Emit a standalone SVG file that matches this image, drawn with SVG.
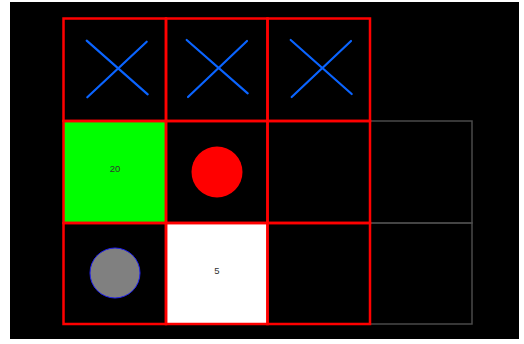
<svg xmlns="http://www.w3.org/2000/svg" width="524" height="344" viewBox="0 0 524 344">
<style>
.cell{fill:none;stroke:#ff0000;stroke-width:2.5}
.ghost{fill:none;stroke:#4a4a4a;stroke-width:1.5}
.x{stroke:#0a64ff;stroke-width:2.2;stroke-linecap:round}
.lbl{font-family:"Liberation Sans",Arial,sans-serif;font-size:9.5px;fill:#333;text-anchor:middle}
</style>
<rect x="0" y="0" width="524" height="344" fill="#ffffff"/>
<rect x="10" y="2" width="509" height="337" fill="#000000"/>
<g id="ghost-cells">
<rect class="ghost" x="370" y="121" width="102" height="102"/>
<rect class="ghost" x="370" y="223" width="102" height="101"/>
</g>
<g id="cell-green">
<rect x="64" y="122" width="102" height="101" fill="#00ff00"/>
<text class="lbl" x="115" y="172">20</text>
</g>
<g id="cell-white">
<rect x="167" y="224" width="100" height="100" fill="#ffffff"/>
<text class="lbl" x="217" y="274">5</text>
</g>
<g id="red-circle">
<circle cx="217" cy="172" r="25.5" fill="#ff0000"/>
</g>
<g id="grey-circle">
<circle cx="115" cy="273" r="25" fill="#808080" stroke="#2222ee" stroke-width="1"/>
</g>
<g id="cross-1">
<line class="x" x1="86.7" y1="40.7" x2="147.7" y2="94.3"/>
<line class="x" x1="146.7" y1="41.7" x2="87.3" y2="97.3"/>
</g>
<g id="cross-2">
<line class="x" x1="186.7" y1="40" x2="247.7" y2="93.3"/>
<line class="x" x1="247" y1="41" x2="188" y2="97"/>
</g>
<g id="cross-3">
<line class="x" x1="290.7" y1="40" x2="351.7" y2="94"/>
<line class="x" x1="351" y1="41" x2="291.7" y2="97"/>
</g>
<g id="grid">
<rect class="cell" x="63.5" y="18.5" width="102.5" height="102.5"/>
<rect class="cell" x="166" y="18.5" width="101.5" height="102.5"/>
<rect class="cell" x="267.5" y="18.5" width="102.5" height="102.5"/>
<rect class="cell" x="63.5" y="121" width="102.5" height="102"/>
<rect class="cell" x="166" y="121" width="101.5" height="102"/>
<rect class="cell" x="267.5" y="121" width="102.5" height="102"/>
<rect class="cell" x="63.5" y="223" width="102.5" height="101"/>
<rect class="cell" x="166" y="223" width="101.5" height="101"/>
<rect class="cell" x="267.5" y="223" width="102.5" height="101"/>
</g>
</svg>
